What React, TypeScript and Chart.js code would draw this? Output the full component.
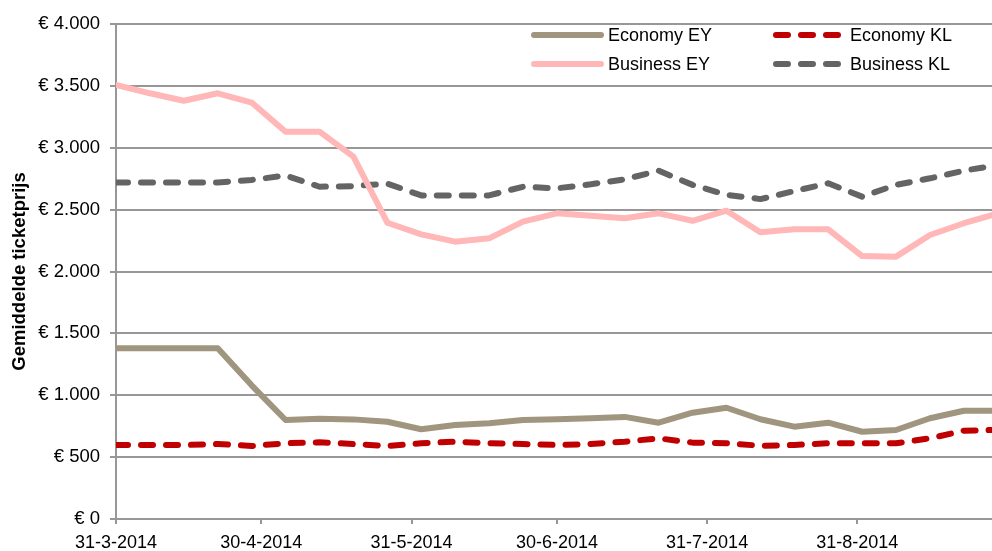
import React, { useEffect, useRef } from 'react';
import { Chart, registerables } from 'chart.js';

Chart.register(...registerables);

// Weekly observation dates (d-m-yyyy)
const weekDates = [
  '31-3-2014', '7-4-2014', '14-4-2014', '21-4-2014', '28-4-2014',
  '5-5-2014', '12-5-2014', '19-5-2014', '26-5-2014', '2-6-2014',
  '9-6-2014', '16-6-2014', '23-6-2014', '30-6-2014', '7-7-2014',
  '14-7-2014', '21-7-2014', '28-7-2014', '4-8-2014', '11-8-2014',
  '18-8-2014', '25-8-2014', '1-9-2014', '8-9-2014', '15-9-2014',
  '22-9-2014', '29-9-2014',
];

// Month-end tick labels on the x axis
const tickLabels = ['31-3-2014', '30-4-2014', '31-5-2014', '30-6-2014', '31-7-2014', '31-8-2014'];

const seriesNames = ['Economy EY', 'Economy KL', 'Business EY', 'Business KL'];

const economyEY = [1380, 1380, 1380, 1380, 1080, 800, 810, 805, 786, 725, 760, 773, 800, 806, 815, 825, 778, 859, 899, 806, 746, 778, 705, 719, 814, 875, 875];
const economyKL = [598, 598, 598, 606, 590, 612, 620, 606, 590, 612, 625, 612, 606, 598, 606, 625, 652, 617, 612, 592, 598, 612, 612, 612, 652, 714, 720];
const businessEY = [3507, 3440, 3380, 3440, 3365, 3130, 3130, 2928, 2394, 2300, 2241, 2268, 2403, 2470, 2450, 2430, 2470, 2410, 2491, 2317, 2341, 2341, 2125, 2120, 2295, 2390, 2470];
const businessKL = [2720, 2720, 2720, 2720, 2740, 2775, 2685, 2690, 2710, 2615, 2615, 2615, 2685, 2672, 2705, 2745, 2815, 2700, 2620, 2585, 2650, 2713, 2605, 2700, 2753, 2815, 2860];

const yTickValues = [0, 500, 1000, 1500, 2000, 2500, 3000, 3500, 4000];

const FONT = '"Liberation Sans", Arial, sans-serif';
const GRID = '#979797';

function parseDate(s: string): number {
  const [d, m, y] = s.split('-').map(Number);
  return Date.UTC(y, m - 1, d);
}
const origin = parseDate(weekDates[0]);
const toDay = (s: string) => Math.round((parseDate(s) - origin) / 86400000);

function euro(v: number): string {
  const s = String(Math.round(v));
  const withDots = s.replace(/\B(?=(\d{3})+(?!\d))/g, '.');
  return '€ ' + withDots;
}

const colors = ['#A0957F', '#C00000', '#FFB7B7', '#646464'];
const dashes: number[][] = [[], [12, 13], [], [12, 13]];
const seriesData = [economyEY, economyKL, businessEY, businessKL];

const legendPlugin = {
  id: 'boxLegend',
  afterDraw(chart: any) {
    const ctx = chart.ctx as CanvasRenderingContext2D;
    const ca = chart.chartArea;
    const cols = [ca.left + 416, ca.left + 658];
    const rows = [ca.top + 11, ca.top + 40];
    const order = [0, 1, 2, 3];
    ctx.save();
    order.forEach((i, k) => {
      const x = cols[k % 2];
      const y = rows[Math.floor(k / 2)];
      ctx.beginPath();
      ctx.strokeStyle = colors[i];
      ctx.lineWidth = 6;
      ctx.lineCap = 'round';
      ctx.setLineDash(dashes[i]);
      ctx.moveTo(x + 2, y);
      ctx.lineTo(x + 69, y);
      ctx.stroke();
      ctx.setLineDash([]);
      ctx.fillStyle = '#000';
      ctx.font = '18px ' + FONT;
      ctx.textBaseline = 'middle';
      ctx.textAlign = 'left';
      ctx.fillText(seriesNames[i], x + 76, y + 1);
    });
    ctx.restore();
  },
};

export default function App() {
  const ref = useRef<HTMLCanvasElement>(null);

  useEffect(() => {
    document.body.style.margin = '0';
    const canvas = ref.current;
    if (!canvas) return;
    const days = weekDates.map(toDay);
    const tickDays = tickLabels.map(toDay);

    const chart = new Chart(canvas, {
      type: 'line',
      data: {
        datasets: seriesData.map((vals, i) => ({
          label: seriesNames[i],
          data: vals.map((v, j) => ({ x: days[j], y: v })),
          borderColor: colors[i],
          backgroundColor: colors[i],
          borderWidth: 6,
          borderDash: dashes[i],
          borderCapStyle: 'round',
          borderJoinStyle: 'round',
          pointRadius: 0,
          tension: 0,
          fill: false,
        })),
      },
      options: {
        animation: false,
        responsive: false,
        devicePixelRatio: 1,
        layout: { padding: { top: 24, right: 0, bottom: 0, left: 0 } },
        plugins: {
          legend: { display: false },
          tooltip: { enabled: false },
        },
        scales: {
          x: {
            type: 'linear',
            min: 0,
            max: 180.8,
            afterBuildTicks: (scale: any) => {
              scale.ticks = tickDays.map((v) => ({ value: v }));
            },
            afterFit: (scale: any) => {
              scale.height = 32;
            },
            ticks: {
              autoSkip: false,
              maxRotation: 0,
              padding: 8,
              color: '#000',
              font: { family: FONT, size: 18 },
              callback: (v: any) => {
                const idx = tickDays.indexOf(Number(v));
                return idx >= 0 ? tickLabels[idx] : '';
              },
            },
            grid: {
              drawOnChartArea: false,
              drawTicks: true,
              tickLength: 5,
              color: GRID,
              lineWidth: 2,
            },
            border: { display: true, color: GRID, width: 2 },
          },
          y: {
            type: 'linear',
            min: 0,
            max: 4000,
            afterBuildTicks: (scale: any) => {
              scale.ticks = yTickValues.map((v) => ({ value: v }));
            },
            afterFit: (scale: any) => {
              scale.width = 116;
            },
            ticks: {
              padding: 10,
              color: '#000',
              font: { family: FONT, size: 18.5 },
              callback: (v: any) => euro(Number(v)),
            },
            grid: {
              drawOnChartArea: true,
              drawTicks: true,
              tickLength: 6,
              color: GRID,
              lineWidth: 2,
            },
            border: { display: true, color: GRID, width: 2 },
            title: {
              display: true,
              text: 'Gemiddelde ticketprijs',
              color: '#000',
              font: { family: FONT, size: 18.5, weight: 'bold' },
              padding: { top: 9, bottom: 0 },
            },
          },
        },
      },
      plugins: [legendPlugin],
    } as any);

    return () => chart.destroy();
  }, []);

  return (
    <div style={{ position: 'relative', width: 992, height: 551 }}>
      <canvas ref={ref} width={992} height={551} />
    </div>
  );
}
